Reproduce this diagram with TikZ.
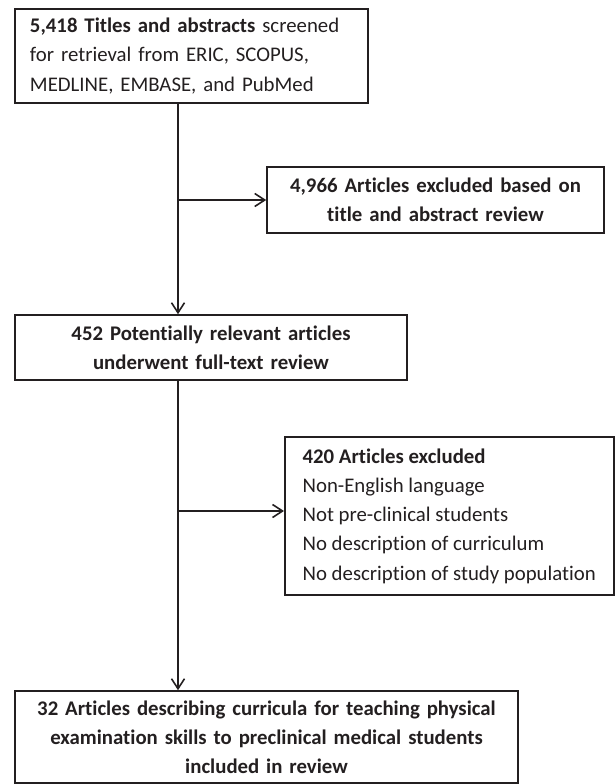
\documentclass[tikz,border=0pt]{standalone}
\usepackage{fontspec}
\setmainfont{Carlito}[Ligatures=NoCommon]
\usetikzlibrary{arrows.meta}
\definecolor{inchiostro}{HTML}{231F20}

\begin{document}
\begin{tikzpicture}[
			x=0.5pt, y=-0.5pt,
			riquadro/.style={draw=inchiostro, line width=0.8pt,
				text=inchiostro, inner sep=0pt,
				font=\fontsize{10.4pt}{14.6pt}\selectfont},
			centrato/.style={riquadro, align=center},
			sinistro/.style={riquadro, align=left},
			freccia/.style={line width=0.8pt, inchiostro,
				-{Straight Barb[length=5pt, width=6.5pt]}},
			]
			\useasboundingbox (0,0) rectangle (616,784);
			
			% riquadri principali
			\node[sinistro, minimum width=176.5pt, minimum height=47pt,
				text width=161.5pt] (titoli) at (191.5,56)
				{\textbf{5,418 Titles and abstracts} screened\\
				 for retrieval from ERIC, SCOPUS,\\
				 MEDLINE, EMBASE, and PubMed};
			\node[centrato, minimum width=196pt, minimum height=32.5pt,
				text width=190pt] (rilevanti) at (211,347.5)
				{\textbf{452 Potentially relevant articles}\\
				 \textbf{underwent full-text review}};
			\node[centrato, minimum width=251.5pt, minimum height=46pt,
				text width=245pt] (inclusi) at (266.5,737)
				{\textbf{32 Articles describing curricula for teaching physical}\\
				 \textbf{examination skills to preclinical medical students}\\
				 \textbf{included in review}};
			
			% riquadri degli esclusi
			\node[centrato, minimum width=168.5pt, minimum height=33pt,
				text width=162pt] (esclusi1) at (435.5,200)
				{\textbf{4,966 Articles excluded based on}\\
				 \textbf{title and abstract review}};
			\node[sinistro, anchor=west, inner xsep=7pt,
				minimum width=164.5pt, minimum height=79pt] (esclusi2) at (284,516)
				{\textbf{420 Articles excluded}\\
				 Non-English language\\
				 Not pre-clinical students\\
				 No description of curriculum\\
				 No description of study population};
			
			% punti di diramazione
			\coordinate (ramo1) at (178,200);
			\coordinate (ramo2) at (178,511);
			
			% frecce
			\draw[freccia] (titoli.south -| ramo1) -- (rilevanti.north -| ramo1);
			\draw[freccia] (ramo1) -- (esclusi1.west);
			\draw[freccia] (rilevanti.south -| ramo2) -- (inclusi.north -| ramo2);
			\draw[freccia] (ramo2) -- (ramo2 -| esclusi2.west);
			
		\end{tikzpicture}
\end{document}
